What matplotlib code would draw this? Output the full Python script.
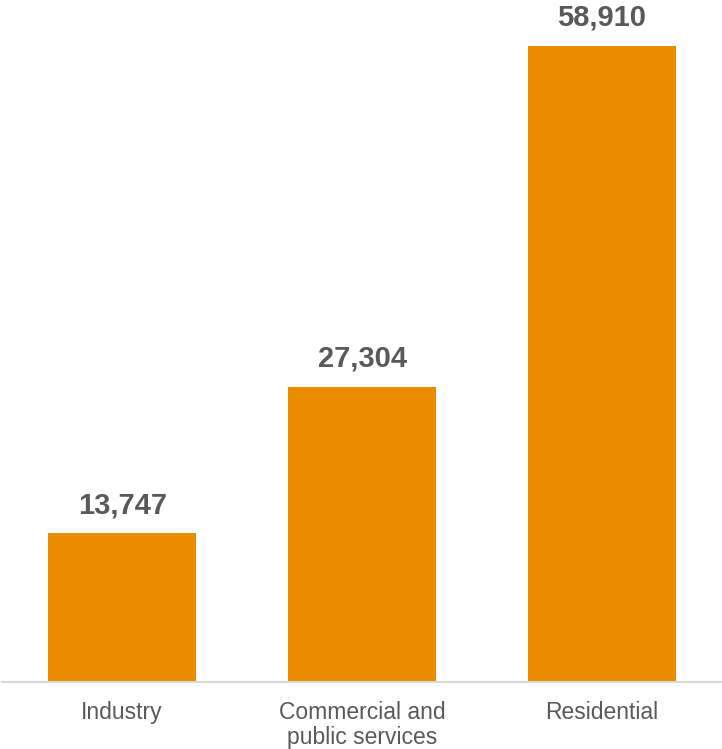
import matplotlib.pyplot as plt

plt.rcParams['font.family'] = ['Liberation Sans', 'DejaVu Sans']

sectors = ['Industry', 'Commercial and\npublic services', 'Residential']
consumption = [13747, 27304, 58910]

fig = plt.figure(figsize=(7.22, 7.49), dpi=100)
ax = fig.add_axes([0.003, 0.09, 0.997, 0.849])

x = range(len(sectors))
bars = ax.bar(x, consumption, width=0.615, color='#EA8B00')

for b, v in zip(bars, consumption):
    ax.annotate(f'{v:,}', (b.get_x() + b.get_width() / 2, v),
                xytext=(0, 10), textcoords='offset points',
                ha='center', va='bottom', fontsize=21, fontweight='bold',
                color='#595959')

ax.set_xlim(-0.5, 2.5)
ax.set_ylim(0, 58910)
ax.set_xticks(list(x))
ax.set_xticklabels(sectors, fontsize=16.5, color='#595959', linespacing=1.12, va='top')
ax.tick_params(axis='x', length=0, pad=14)
ax.set_yticks([])
for s in ['top', 'right', 'left']:
    ax.spines[s].set_visible(False)
ax.spines['bottom'].set_color('#D9D9D9')
ax.spines['bottom'].set_linewidth(1.5)

fig.savefig('out.png', dpi=100)
